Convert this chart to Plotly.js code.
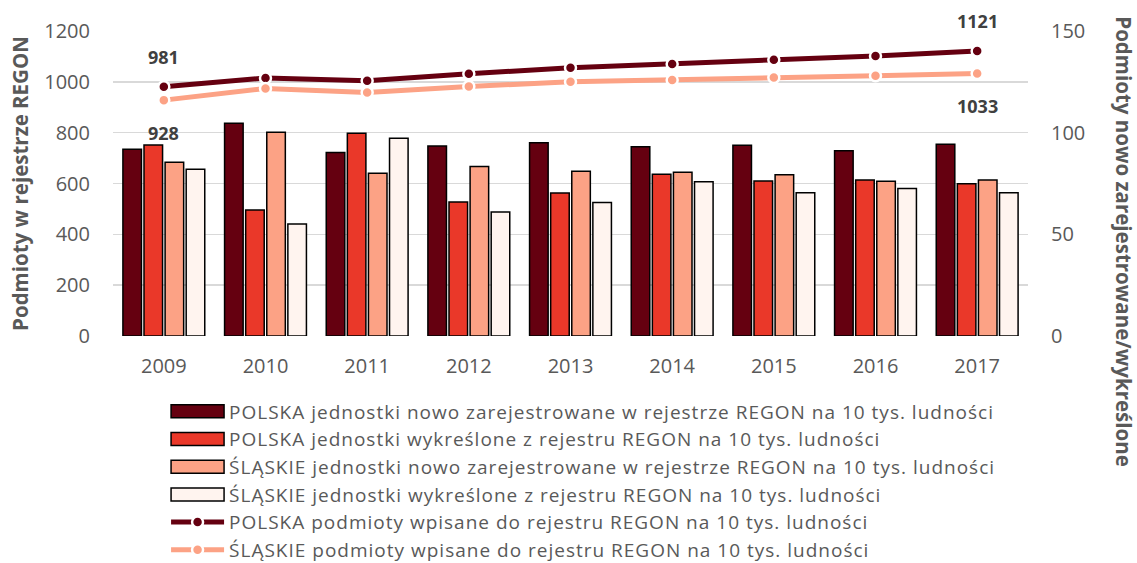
<!DOCTYPE html>
<html>
<head>
<meta charset="utf-8">
<script src="https://cdn.plot.ly/plotly-3.0.1.min.js"></script>
<style>
  html, body { margin: 0; padding: 0; background: #ffffff; }
  #chart { width: 1137px; height: 563px; }
  .legendtext { letter-spacing: 1px; }
</style>
</head>
<body>
<div id="chart"></div>
<script>
// Lata
const years = ['2009', '2010', '2011', '2012', '2013', '2014', '2015', '2016', '2017'];

// Jednostki na 10 tys. ludności (prawa oś)
const polskaNowe = [91.8, 104.6, 90.2, 93.5, 95.1, 93.1, 93.8, 91.1, 94.3];
const polskaWykreslone = [93.9, 62.0, 99.7, 65.9, 70.3, 79.5, 76.2, 76.7, 74.9];
const slaskieNowe = [85.4, 100.2, 80.0, 83.3, 81.0, 80.5, 79.3, 76.1, 76.7];
const slaskieWykreslone = [82.0, 55.1, 97.2, 61.0, 65.6, 75.9, 70.5, 72.5, 70.5];

// Podmioty w rejestrze REGON na 10 tys. ludności (lewa oś)
const polskaWpisane = [981, 1015, 1004, 1032, 1055, 1070, 1087, 1102, 1121];
const slaskieWpisane = [928, 974, 958, 982, 1000, 1007, 1017, 1024, 1033];

const seriesNames = [
  'POLSKA jednostki nowo zarejestrowane w rejestrze REGON na 10 tys. ludności',
  'POLSKA jednostki wykreślone z rejestru REGON na 10 tys. ludności',
  'ŚLĄSKIE jednostki nowo zarejestrowane w rejestrze REGON na 10 tys. ludności',
  'ŚLĄSKIE jednostki wykreślone z rejestru REGON na 10 tys. ludności',
  'POLSKA podmioty wpisane do rejestru REGON na 10 tys. ludności',
  'ŚLĄSKIE podmioty wpisane do rejestru REGON na 10 tys. ludności'
];

const FONT = '"Open Sans", Lato, sans-serif';
const GREY = '#595959';

function barTrace(name, values, color) {
  return {
    type: 'bar', name: name, x: years, y: values, yaxis: 'y',
    marker: { color: color, line: { color: '#000000', width: 1.5 } }
  };
}

function lineTrace(name, values, color) {
  return {
    type: 'scatter', mode: 'lines+markers', name: name, x: years, y: values, yaxis: 'y2',
    line: { color: color, width: 5 },
    marker: { color: color, size: 11, line: { color: '#ffffff', width: 2.5 } },
    cliponaxis: false
  };
}

const traces = [
  barTrace(seriesNames[0], polskaNowe, '#650010'),
  barTrace(seriesNames[1], polskaWykreslone, '#EA3829'),
  barTrace(seriesNames[2], slaskieNowe, '#FCA285'),
  barTrace(seriesNames[3], slaskieWykreslone, '#FFF4EF'),
  lineTrace(seriesNames[4], polskaWpisane, '#650010'),
  lineTrace(seriesNames[5], slaskieWpisane, '#FCA285')
];

// Etykiety wartości dla pierwszego i ostatniego roku (x = indeks kategorii)
const last = years.length - 1;
function valueLabel(i, values, shift) {
  return {
    x: i, y: values[i], xref: 'x', yref: 'y2',
    text: String(values[i]), showarrow: false, yshift: shift,
    font: { family: FONT, size: 18, color: '#404040', weight: 'bold' }
  };
}

const LEGEND_SWATCH = 53;

const layout = {
  width: 1137, height: 563,
  margin: { l: 113, r: 109, t: 31, b: 227, autoexpand: false },
  paper_bgcolor: '#ffffff', plot_bgcolor: '#ffffff',
  font: { family: FONT, color: GREY },
  barmode: 'group', bargap: 0.17, bargroupgap: 0.12,
  showlegend: true,
  xaxis: {
    type: 'category', range: [-0.5, years.length - 0.5],
    showgrid: false, zeroline: false, showline: false,
    ticks: '', ticklabelstandoff: 16,
    tickfont: { family: FONT, size: 20, color: GREY }
  },
  yaxis: {
    side: 'right', range: [0, 150], dtick: 50, showgrid: false, zeroline: false,
    ticks: '', ticklabelstandoff: 22,
    tickfont: { family: FONT, size: 20, color: GREY }
  },
  yaxis2: {
    side: 'left', overlaying: 'y', range: [0, 1200], dtick: 200,
    showgrid: true, gridcolor: '#d9d9d9', gridwidth: 1.5,
    zeroline: false, ticks: '', ticklabelstandoff: 22,
    tickfont: { family: FONT, size: 20, color: GREY },
    title: {
      text: 'Podmioty w rejestrze REGON', standoff: 10,
      font: { family: FONT, size: 20.5, color: GREY, weight: 'bold' }
    }
  },
  legend: {
    orientation: 'v', x: 0.058, xanchor: 'left', y: -0.185, yanchor: 'top',
    traceorder: 'normal', itemwidth: LEGEND_SWATCH,
    font: { family: FONT, size: 19, color: GREY },
    bgcolor: 'rgba(0,0,0,0)'
  },
  annotations: [
    valueLabel(0, polskaWpisane, 30),
    valueLabel(last, polskaWpisane, 30),
    valueLabel(0, slaskieWpisane, -33),
    valueLabel(last, slaskieWpisane, -33),
    {
      text: 'Podmioty nowo zarejestrowane/wykreślone', textangle: 90,
      xref: 'paper', yref: 'paper', x: 1.104, y: 0.31,
      xanchor: 'center', yanchor: 'middle', showarrow: false,
      font: { family: FONT, size: 20.5, color: GREY, weight: 'bold' }
    }
  ]
};

Plotly.newPlot('chart', traces, layout, { displayModeBar: false, staticPlot: true }).then(function (gd) {
  // Szerokie prostokąty jako symbole słupków w legendzie
  const half = LEGEND_SWATCH / 2;
  gd.querySelectorAll('.legend .traces .legendpoints path').forEach(function (p) {
    if (/M6,6H-6V-6H6Z/.test(p.getAttribute('d') || '')) {
      p.setAttribute('d', 'M' + half + ',6.5H-' + half + 'V-6.5H' + half + 'Z');
      p.setAttribute('transform', 'translate(' + (5 + half) + ',0)');
    }
  });
});
</script>
</body>
</html>
